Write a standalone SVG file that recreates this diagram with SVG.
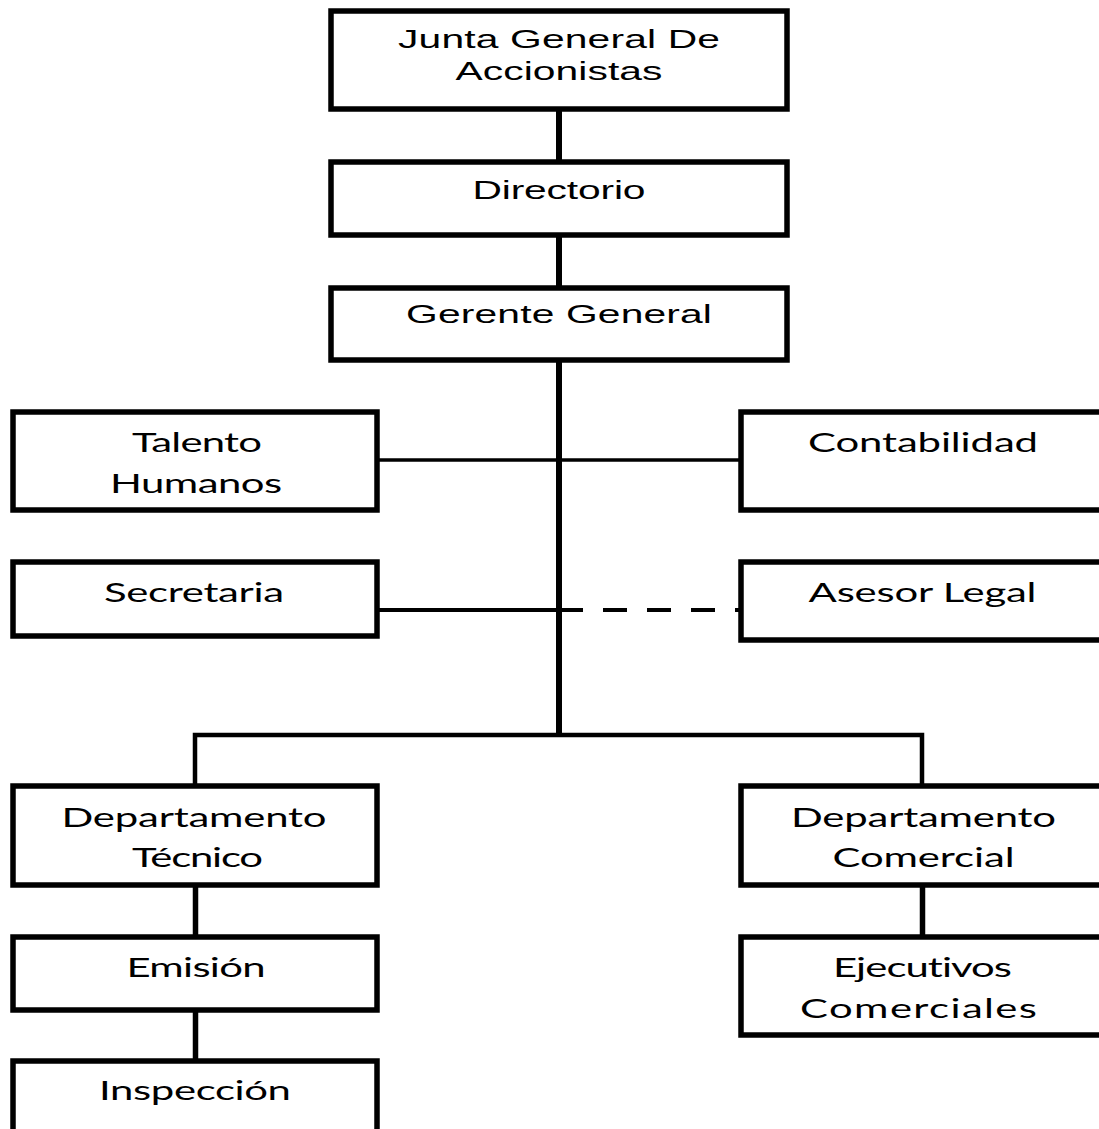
<svg xmlns="http://www.w3.org/2000/svg" width="1099" height="1129" viewBox="0 0 1099 1129">
<style>
.box{fill:#fff;stroke:#000;stroke-width:5.5}
.a{font-family:"Liberation Sans",Arial,sans-serif;font-size:25.5px;fill:#000;text-anchor:middle}
.c{font-family:Lato,"Open Sans",sans-serif;font-size:26.5px;fill:#000;text-anchor:middle;font-variant-ligatures:none;font-feature-settings:"liga" 0,"clig" 0}
.ln{stroke:#000;fill:none}
</style>
<rect width="1099" height="1129" fill="#fff"/>
<g id="connectors">
<line class="ln" x1="559" y1="109" x2="559" y2="162" stroke-width="6"/>
<line class="ln" x1="559" y1="235" x2="559" y2="288" stroke-width="6"/>
<line class="ln" x1="559" y1="360" x2="559" y2="737" stroke-width="6"/>
<line class="ln" x1="377" y1="460" x2="741" y2="460" stroke-width="3.5"/>
<line class="ln" x1="377" y1="610" x2="559" y2="610" stroke-width="4"/>
<line class="ln" x1="559" y1="610" x2="741" y2="610" stroke-width="4" stroke-dasharray="24 20"/>
<polyline class="ln" points="195,786 195,735 922,735 922,786" stroke-width="4.5"/>
<line class="ln" x1="195.5" y1="885" x2="195.5" y2="937" stroke-width="5.5"/>
<line class="ln" x1="195.5" y1="1010" x2="195.5" y2="1061" stroke-width="5.5"/>
<line class="ln" x1="922.5" y1="885" x2="922.5" y2="937" stroke-width="5.5"/>
</g>
<g id="junta">
<rect class="box" x="331" y="11" width="456" height="98"/>
<text class="a" transform="translate(559,48) scale(1.6,1)" textLength="201.2">Junta General De</text>
<text class="a" transform="translate(559,80) scale(1.6,1)" textLength="129.4">Accionistas</text>
</g>
<g id="directorio">
<rect class="box" x="331" y="162" width="456" height="73"/>
<text class="a" transform="translate(559,199) scale(1.6,1)" textLength="108.1">Directorio</text>
</g>
<g id="gerente">
<rect class="box" x="331" y="288" width="456" height="72"/>
<text class="a" transform="translate(559,323) scale(1.6,1)" textLength="191.2">Gerente General</text>
</g>
<g id="talento">
<rect class="box" x="13" y="412" width="364" height="98"/>
<text class="c" transform="translate(197,452) scale(1.58,1)" textLength="82.3">Talento</text>
<text class="c" transform="translate(196,493) scale(1.58,1)" textLength="108.9">Humanos</text>
</g>
<g id="contabilidad">
<rect class="box" x="741" y="412" width="400" height="98"/>
<text class="c" transform="translate(923,452) scale(1.58,1)" textLength="145.6">Contabilidad</text>
</g>
<g id="secretaria">
<rect class="box" x="13" y="562" width="364" height="74"/>
<text class="c" transform="translate(194,602) scale(1.58,1)" textLength="113.9">Secretaria</text>
</g>
<g id="asesor">
<rect class="box" x="741" y="562" width="400" height="78"/>
<text class="c" transform="translate(922.5,602) scale(1.58,1)" textLength="144.3">Asesor Legal</text>
</g>
<g id="dep-tecnico">
<rect class="box" x="13" y="786" width="364" height="99"/>
<text class="c" transform="translate(194,827) scale(1.58,1)" textLength="167.7">Departamento</text>
<text class="c" transform="translate(197.5,867) scale(1.58,1)" textLength="82.9">Técnico</text>
</g>
<g id="dep-comercial">
<rect class="box" x="741" y="786" width="400" height="99"/>
<text class="c" transform="translate(923.5,827) scale(1.58,1)" textLength="167.7">Departamento</text>
<text class="c" transform="translate(923.5,867) scale(1.58,1)" textLength="115.2">Comercial</text>
</g>
<g id="emision">
<rect class="box" x="13" y="937" width="364" height="73"/>
<text class="c" transform="translate(196,977) scale(1.58,1)" textLength="88">Emisión</text>
</g>
<g id="ejecutivos">
<rect class="box" x="741" y="937" width="400" height="98"/>
<text class="c" transform="translate(922.5,977) scale(1.58,1)" textLength="113.3">Ejecutivos</text>
<text class="c" transform="translate(918.5,1018) scale(1.58,1)" textLength="150">Comerciales</text>
</g>
<g id="inspeccion">
<rect class="box" x="13" y="1061" width="364" height="120"/>
<text class="c" transform="translate(195,1100) scale(1.58,1)" textLength="121.5">Inspección</text>
</g>
</svg>
